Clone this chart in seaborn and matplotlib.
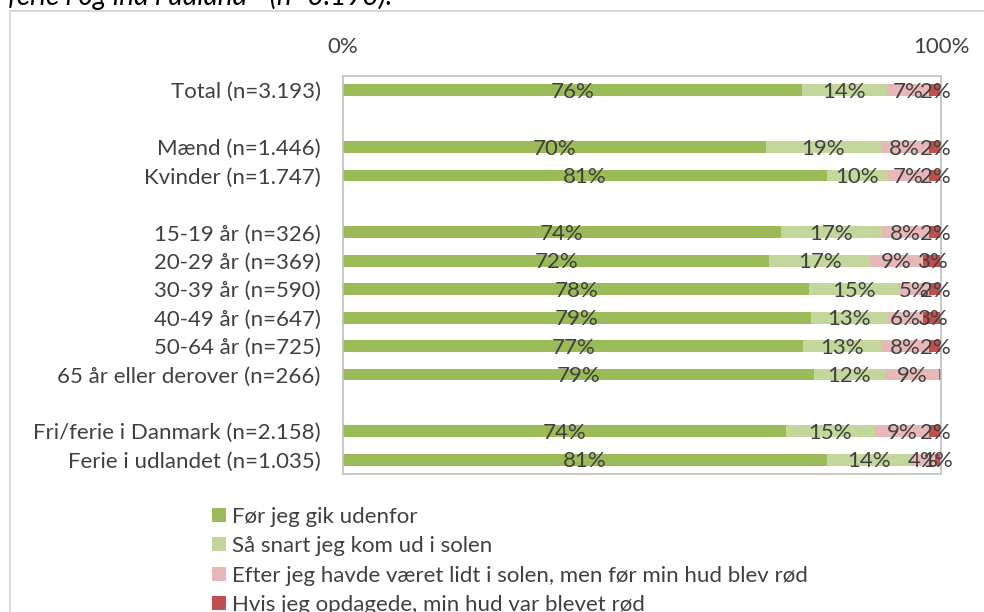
import numpy as np
import pandas as pd
import matplotlib
matplotlib.use('Agg')
import matplotlib.pyplot as plt
from matplotlib.patches import Patch, Rectangle
import seaborn as sns

sns.set_style('white')
plt.rcParams['font.family'] = ['Lato', 'DejaVu Sans']
plt.rcParams['text.color'] = '#404040'
plt.rcParams['xtick.color'] = '#404040'
plt.rcParams['ytick.color'] = '#404040'

# data
rows = ['Total (n=3.193)', 'Mænd (n=1.446)', 'Kvinder (n=1.747)',
        '15-19 år (n=326)', '20-29 år (n=369)', '30-39 år (n=590)', '40-49 år (n=647)',
        '50-64 år (n=725)', '65 år eller derover (n=266)',
        'Fri/ferie i Danmark (n=2.158)', 'Ferie i udlandet (n=1.035)']
# tomme rækker som afstand mellem grupperne
order = [rows[0], ' ', rows[1], rows[2], '  ', *rows[3:9], '   ', rows[9], rows[10]]

foer = [76, 70, 81, 74, 72, 78, 79, 77, 79, 74, 81]
snart = [14, 19, 10, 17, 17, 15, 13, 13, 12, 15, 14]
efter = [7, 8, 7, 8, 9, 5, 6, 8, 9, 9, 4]
roed = [2, 2, 2, 2, 3, 2, 3, 2, 0.4, 2, 1]

series = ['Før jeg gik udenfor', 'Så snart jeg kom ud i solen',
          'Efter jeg havde været lidt i solen, men før min hud blev rød',
          'Hvis jeg opdagede, min hud var blevet rød']
colors = ['#9BBB59', '#C3D69B', '#E6B9B8', '#C0504D']

df = pd.DataFrame({series[0]: foer, series[1]: snart, series[2]: efter, series[3]: roed}, index=rows)
share = df.div(df.sum(axis=1), axis=0)  # 100% stablet
cum = share.cumsum(axis=1)

fig, ax = plt.subplots(figsize=(9.84, 6.12), dpi=100)
fig.subplots_adjust(left=0.3486, right=0.9563, top=0.8758, bottom=0.2255)

# stablede søjler: tegn kumulerede summer bagfra
for i in range(3, -1, -1):
    sns.barplot(x=cum.iloc[:, i].values, y=rows, order=order, color=colors[i],
                width=0.42, orient='h', errorbar=None, saturation=1, linewidth=0, ax=ax)

# dataetiketter
for r in rows:
    pos = order.index(r)
    left = 0
    for s in series:
        w = share.loc[r, s]
        if df.loc[r, s] >= 1:
            ax.text(left + w / 2, pos + 0.06, f'{df.loc[r, s]:.0f}%', ha='center', va='center', fontsize=16)
        left += w

ax.set_xlim(0, 1)
ax.xaxis.tick_top()
ax.set_xticks([0, 1], ['0%', '100%'])
ax.tick_params(axis='x', length=0, pad=14, labelsize=16)
ax.tick_params(axis='y', length=0, pad=16, labelsize=16)
ax.set_xlabel('')
ax.set_ylabel('')
for sp in ax.spines.values():
    sp.set_color('#BFBFBF')
    sp.set_linewidth(1.2)

# forklaring
handles = [Patch(facecolor=c, edgecolor='none') for c in colors]
fig.legend(handles, series, loc='upper left', bbox_to_anchor=(203 / 984, 1 - 498 / 612),
           frameon=False, fontsize=16, handlelength=0.63, handleheight=0.6,
           handletextpad=0.27, labelspacing=0.42, borderaxespad=0)

# ramme om diagrammet og afskåret titel
fig.add_artist(Rectangle((10 / 984, -0.1), 1.1, 1.1 - 11 / 612, transform=fig.transFigure,
                         fill=False, edgecolor='#D9D9D9', linewidth=1.5))
fig.text(0.008, 1 - 5 / 612, 'ferie i og ind i udland”  (n=3.193).', style='italic',
         fontsize=20, color='black', va='baseline')

fig.savefig('out.png', dpi=100)
